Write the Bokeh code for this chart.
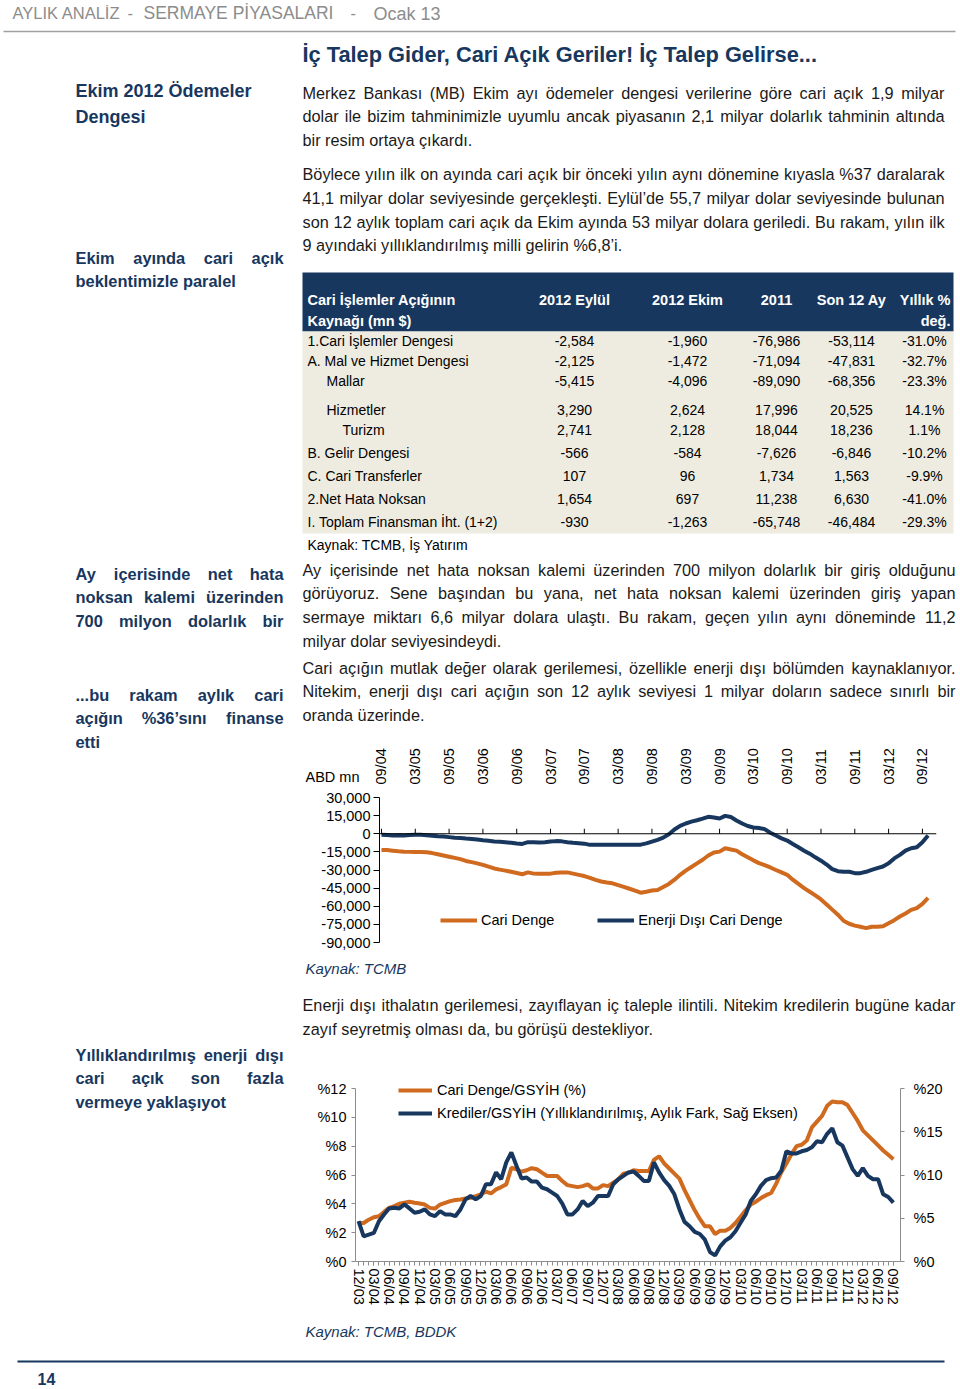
import pandas as pd
from bokeh.plotting import figure
from bokeh.models import (Range1d, LinearAxis, FixedTicker, NumeralTickFormatter, Span,
                          Legend, LegendItem, Plot)
from bokeh.layouts import column, row
from bokeh.embed import file_html
from bokeh.resources import INLINE
from bokeh.core.properties import value

# ---------------------------------------------------------------- data
# Chart 1: 12-month rolling balances, USD mn, monthly 09/2004 .. 10/2012
chart1_start = "2004-09-01"
cari_denge_12m = [
    -13400, -13500, -14000, -14500, -14800, -15000, -15100, -15200, -15300, -16000,
    -17000, -18000, -19000, -20000, -21000, -22500, -23500, -24500, -25800, -27200,
    -28700, -29700, -30500, -31500, -32500, -33500, -32000, -33000, -33200, -33000,
    -33000, -32300, -32000, -32000, -33000, -34000, -35000, -36500, -38200, -39500,
    -40300, -41000, -42500, -44000, -45500, -47000, -48800, -48000, -47000, -46500,
    -44000, -41500, -38000, -34000, -30500, -27500, -24500, -21500, -18000, -15500,
    -14800, -12000, -13000, -14000, -17000, -19500, -22000, -24300, -26000, -27900,
    -30000, -32000, -34000, -38000, -41500, -45000, -48000, -51000, -54400, -58500,
    -62800, -67000, -72000, -74500, -76000, -77000, -78100, -77000, -77000, -76500,
    -74000, -71500, -68500, -66000, -63000, -61500, -58000, -53100]
enerji_disi_12m = [
    -800, -1000, -1400, -1300, -1400, -1000, -800, -900, -1200, -1600,
    -2000, -2300, -2800, -3300, -3600, -4000, -4300, -4700, -5300, -5800,
    -6400, -6700, -7000, -7500, -8000, -8400, -7000, -7000, -7200, -7000,
    -6500, -6100, -6300, -7000, -7500, -7800, -8200, -9200, -9000, -9000,
    -9200, -9000, -9200, -9200, -9200, -9000, -9000, -8000, -6500, -5000,
    -3200, -500, 3500, 6500, 8500, 10000, 11200, 12500, 14000, 13500,
    12600, 14800, 13800, 11000, 8500, 6400, 5200, 4700, 3800, 800,
    -1500, -3800, -5600, -8500, -11200, -14000, -16500, -19500, -22300, -25500,
    -29300, -31000, -31500, -31500, -32600, -32600, -31500, -29900, -28500, -27100,
    -24500, -20400, -17500, -14000, -12000, -11200, -7000, -1400]
chart1_y_ticks = [-90000, -75000, -60000, -45000, -30000, -15000, 0, 15000, 30000]

# Chart 2: monthly 12/2003 .. 09/2012, percent
chart2_start = "2003-12-01"
cari_gsyih = [
    2.67, 2.67, 2.9, 3.07, 3.14, 3.44, 3.72, 3.84, 4.0, 4.07,
    4.14, 4.07, 4.02, 3.95, 3.72, 3.67, 3.95, 4.07, 4.19, 4.26,
    4.3, 4.37, 4.42, 4.53, 4.65, 4.85, 4.72, 5.0, 5.16, 5.35,
    6.5, 6.4, 6.23, 6.33, 6.47, 6.4, 6.16, 5.93, 5.93, 5.93,
    5.58, 5.3, 5.23, 5.16, 5.23, 5.35, 5.07, 5.07, 5.3, 5.23,
    5.47, 5.7, 6.09, 6.16, 6.33, 6.28, 6.28, 6.28, 7.05, 7.3,
    6.8, 6.45, 6.1, 5.75, 4.95, 4.25, 3.55, 2.95, 2.44, 2.44,
    1.9, 2.14, 2.14, 2.33, 2.67, 3.1, 3.55, 3.95, 4.15, 4.4,
    4.6, 4.75, 5.4, 6.2, 6.8, 7.45, 8.0, 8.1, 8.4, 9.3,
    9.7, 10.1, 10.8, 11.1, 11.05, 11.05, 10.85, 10.3, 9.75, 9.1,
    8.75, 8.4, 8.05, 7.7, 7.4, 7.09]
kredi_gsyih = [
    4.66, 2.91, 3.1, 3.3, 4.66, 5.44, 6.14, 6.21, 6.14, 6.6,
    6.14, 5.63, 5.75, 6.02, 5.44, 5.24, 5.83, 5.44, 5.44, 5.24,
    6.02, 7.18, 7.57, 7.18, 7.57, 8.93, 8.93, 10.3, 9.51, 11.46,
    12.62, 11.07, 9.59, 9.71, 9.24, 9.24, 8.54, 8.35, 7.96, 7.57,
    6.68, 5.44, 5.44, 6.02, 6.99, 6.41, 6.8, 7.57, 7.57, 7.57,
    8.93, 9.51, 9.9, 10.3, 10.4, 9.9, 9.32, 9.32, 11.46, 10.3,
    9.4, 8.74, 7.77, 6.02, 4.58, 4.08, 3.42, 3.18, 2.52, 1.09,
    0.7, 1.75, 2.41, 2.8, 3.5, 4.47, 5.44, 6.99, 7.77, 8.74,
    9.4, 9.63, 9.71, 10.49, 12.74, 12.5, 12.5, 12.74, 12.89, 13.2,
    13.9, 13.79, 14.76, 15.4, 13.79, 13.4, 12.04, 10.68, 9.9, 10.8,
    9.9, 9.51, 9.51, 7.77, 7.46, 6.8]
chart2_left_ticks = [0, 2, 4, 6, 8, 10, 12]
chart2_right_ticks = [0, 5, 10, 15, 20]

# Table
table_header = ["2012 Eylül", "2012 Ekim", "2011", "Son 12 Ay"]
table_rows = ["1.Cari İşlemler Dengesi", "A. Mal ve Hizmet Dengesi", "Mallar", "Hizmetler",
              "Turizm", "B. Gelir Dengesi", "C. Cari Transferler", "2.Net Hata Noksan",
              "I. Toplam Finansman İht. (1+2)"]
col_eylul = [-2584, -2125, -5415, 3290, 2741, -566, 107, 1654, -930]
col_ekim = [-1960, -1472, -4096, 2624, 2128, -584, 96, 697, -1263]
col_2011 = [-76986, -71094, -89090, 17996, 18044, -7626, 1734, 11238, -65748]
col_son12 = [-53114, -47831, -68356, 20525, 18236, -6846, 1563, 6630, -46484]
col_yillik = [-31.0, -32.7, -23.3, 14.1, 1.1, -10.2, -9.9, -41.0, -29.3]

# ---------------------------------------------------------------- style
FONT = "Liberation Sans"
NAVY = "#17375E"
ORANGE = "#CF6A1E"
TXT = "#1A1A1A"
GRAY = "#8C8C8C"
AXG = "#8C8C8C"
LW = 4
FA = {"frame_align": False} if "frame_align" in Plot.properties() else {}

_REG = {}
_BOLD = {}
for ch, w in zip(" !%'(),-./:+$’", [278, 278, 889, 191, 333, 333, 278, 333, 278, 278, 278, 584, 556, 222]):
    _REG[ch] = w
for ch, w in zip(" !%'(),-./:+$’", [278, 333, 889, 238, 333, 333, 278, 333, 278, 278, 333, 584, 556, 278]):
    _BOLD[ch] = w
for d in "0123456789":
    _REG[d] = 556
    _BOLD[d] = 556
_UP = "ABCDEFGHIJKLMNOPQRSTUVWXYZ"
_LO = "abcdefghijklmnopqrstuvwxyz"
_TR = "çğışöüİÇŞÖÜĞ"
_REG.update(zip(_UP, [667, 667, 722, 722, 667, 611, 778, 722, 278, 500, 667, 556, 833, 722, 778, 667, 778, 722, 667, 611, 722, 667, 944, 667, 667, 611]))
_REG.update(zip(_LO, [556, 556, 500, 556, 556, 278, 556, 556, 222, 222, 500, 222, 833, 556, 556, 556, 556, 333, 500, 278, 556, 500, 722, 500, 500, 500]))
_REG.update(zip(_TR, [500, 556, 278, 500, 556, 556, 278, 722, 667, 778, 722, 778]))
_BOLD.update(zip(_UP, [722, 722, 722, 722, 667, 611, 778, 722, 278, 556, 722, 611, 833, 722, 778, 667, 778, 722, 667, 611, 722, 667, 944, 667, 667, 611]))
_BOLD.update(zip(_LO, [556, 611, 556, 611, 556, 333, 611, 611, 278, 278, 556, 278, 889, 611, 611, 611, 611, 389, 556, 333, 611, 556, 778, 556, 556, 500]))
_BOLD.update(zip(_TR, [556, 611, 278, 556, 611, 611, 278, 722, 667, 778, 722, 778]))


def tw(s, size, bold=False):
    t = _BOLD if bold else _REG
    return sum(t.get(c, 556) for c in s) * size / 1000.0


def put(p, xs, ys, texts, size, color, bold=False, italic=False, align="left"):
    style = "bold" if bold else ("italic" if italic else "normal")
    p.text(x=xs, y=ys, text=texts, text_font=value(FONT), text_font_size=value(f"{size}px"),
           text_color=color, text_align=align, text_baseline="middle", text_font_style=style)


def justify(p, line, xl, xr, y, size, color, bold=False):
    words = line.split()
    widths = [tw(w, size, bold) for w in words]
    gap = (xr - xl - sum(widths)) / (len(words) - 1)
    xs, x = [], xl
    for w in widths:
        xs.append(x)
        x += w + gap
    put(p, xs[:-1], [y] * (len(words) - 1), words[:-1], size, color, bold)
    put(p, [xr], [y], [words[-1]], size, color, bold, align="right")


def page_fig(x0, x1, y0, y1):
    p = figure(width=x1 - x0, height=y1 - y0, x_range=Range1d(x0, x1), y_range=Range1d(y1, y0),
               toolbar_location=None, output_backend="svg", min_border=0, tools="",
               x_axis_location=None, y_axis_location=None, **FA)
    p.grid.visible = False
    p.outline_line_color = None
    p.background_fill_color = "white"
    p.border_fill_color = "white"
    return p


# ---------------------------------------------------------------- header
hdr = page_fig(0, 960, 0, 36)
put(hdr, [12], [12], ["AYLIK ANALİZ"], 16.5, GRAY)
put(hdr, [127], [12], ["-"], 16.5, GRAY)
put(hdr, [143], [12], ["SERMAYE PİYASALARI"], 17.5, GRAY)
put(hdr, [350], [12], ["-"], 16.5, GRAY)
put(hdr, [373], [13], ["Ocak 13"], 18, GRAY)
hdr.line(x=[3, 955], y=[31, 31], line_color="#A0A0A0", line_width=1.5)

# ---------------------------------------------------------------- left sidebar
left = page_fig(0, 300, 36, 1355)
SB = 16.4
put(left, [75, 75], [90, 116], ["Ekim 2012 Ödemeler", "Dengesi"], 18, NAVY, bold=True)
side = [
    (257, "J", "Ekim ayında cari açık"),
    (280, "L", "beklentimizle paralel"),
    (573, "J", "Ay içerisinde net hata"),
    (596, "J", "noksan kalemi üzerinden"),
    (620, "J", "700 milyon dolarlık bir"),
    (694, "J", "...bu rakam aylık cari"),
    (717, "J", "açığın %36’sını finanse"),
    (741, "L", "etti"),
    (1054, "J", "Yıllıklandırılmış enerji dışı"),
    (1077, "J", "cari açık son fazla"),
    (1101, "L", "vermeye yaklaşıyot"),
]
for y, mode, line in side:
    if mode == "J":
        justify(left, line, 75, 283, y, SB, NAVY, bold=True)
    else:
        put(left, [75], [y], [line], SB, NAVY, bold=True)

# ---------------------------------------------------------------- right top (title, text, table)
rt = page_fig(300, 960, 36, 745)
put(rt, [302], [54], ["İç Talep Gider, Cari Açık Geriler! İç Talep Gelirse..."], 21.8, NAVY, bold=True)
BS = 16.25
body_top = [
    (92, "J", "Merkez Bankası (MB) Ekim ayı ödemeler dengesi verilerine göre cari açık 1,9 milyar", 944),
    (115, "J", "dolar ile bizim tahminimizle uyumlu ancak piyasanın 2,1 milyar dolarlık tahminin altında", 944),
    (139, "L", "bir resim ortaya çıkardı.", 944),
    (173, "J", "Böylece yılın ilk on ayında cari açık bir önceki yılın aynı dönemine kıyasla %37 daralarak", 944),
    (197, "J", "41,1 milyar dolar seviyesinde gerçekleşti. Eylül’de 55,7 milyar dolar seviyesinde bulunan", 944),
    (221, "J", "son 12 aylık toplam cari açık da Ekim ayında 53 milyar dolara geriledi. Bu rakam, yılın ilk", 944),
    (244, "L", "9 ayındaki yıllıklandırılmış milli gelirin %6,8’i.", 944),
    (569, "J", "Ay içerisinde net hata noksan kalemi üzerinden 700 milyon dolarlık bir giriş olduğunu", 955),
    (592, "J", "görüyoruz. Sene başından bu yana, net hata noksan kalemi üzerinden giriş yapan", 955),
    (616, "J", "sermaye miktarı 6,6 milyar dolara ulaştı. Bu rakam, geçen yılın aynı döneminde 11,2", 955),
    (640, "L", "milyar dolar seviyesindeydi.", 955),
    (667, "J", "Cari açığın mutlak değer olarak gerilemesi, özellikle enerji dışı bölümden kaynaklanıyor.", 955),
    (690, "J", "Nitekim, enerji dışı cari açığın son 12 aylık seviyesi 1 milyar doların sadece sınırlı bir", 955),
    (714, "L", "oranda üzerinde.", 955),
]
for y, mode, line, xr in body_top:
    if mode == "J":
        justify(rt, line, 302, xr, y, BS, TXT)
    else:
        put(rt, [302], [y], [line], BS, TXT)

# table
rt.quad(left=[302], right=[953], top=[272], bottom=[331], fill_color=NAVY, line_color=None)
rt.quad(left=[302], right=[953], top=[331], bottom=[533], fill_color="#EEECE1", line_color=None)
TS = 14
HS = 14.5
put(rt, [307, 307], [299, 320], ["Cari İşlemler Açığının", "Kaynağı (mn $)"], HS, "white", bold=True)
col_x = [574, 687, 776, 851]
put(rt, col_x, [299] * 4, table_header, HS, "white", bold=True, align="center")
put(rt, [950, 950], [299, 320], ["Yıllık %", "değ."], HS, "white", bold=True, align="right")
row_y = [340, 360, 380, 409, 429, 452, 475, 498, 521]
indent = {"Mallar": 326, "Hizmetler": 326, "Turizm": 342}
put(rt, [indent.get(r, 307) for r in table_rows], row_y, table_rows, TS, "#000000")
for cx, col in zip(col_x, [col_eylul, col_ekim, col_2011, col_son12]):
    put(rt, [cx] * len(col), row_y, [f"{v:,}" for v in col], TS, "#000000", align="center")
put(rt, [924] * len(col_yillik), row_y, [f"{v:.1f}%" for v in col_yillik], TS, "#000000", align="center")
put(rt, [307], [544], ["Kaynak: TCMB, İş Yatırım"], TS, "#000000")

# ---------------------------------------------------------------- chart 1
months1 = pd.date_range(chart1_start, periods=len(cari_denge_12m), freq="MS")
idx1 = list(range(len(months1)))
ticks1 = idx1[::6]
c1 = figure(width=660, height=215, x_range=Range1d(-0.35, 98.5), y_range=Range1d(-90000, 30000),
            toolbar_location=None, output_backend="svg", tools="", x_axis_location="above",
            min_border_left=79, min_border_right=24, min_border_top=52, min_border_bottom=18, **FA)
c1.grid.visible = False
c1.outline_line_color = None
c1.background_fill_color = "white"
c1.border_fill_color = "white"
xa = c1.xaxis[0]
xa.ticker = FixedTicker(ticks=ticks1)
xa.major_label_overrides = {i: months1[i].strftime("%m/%y") for i in ticks1}
xa.major_label_orientation = "vertical"
xa.axis_line_color = None
xa.major_tick_line_color = None
xa.minor_tick_line_color = None
xa.major_label_standoff = 7
xa.major_label_text_font = FONT
xa.major_label_text_font_size = "14.5px"
xa.major_label_text_color = "#000000"
ya = c1.yaxis[0]
ya.ticker = FixedTicker(ticks=chart1_y_ticks)
ya.formatter = NumeralTickFormatter(format="0,0")
ya.axis_line_color = "#000000"
ya.major_tick_line_color = "#000000"
ya.major_tick_out = 6
ya.major_tick_in = 0
ya.minor_tick_line_color = None
ya.major_label_standoff = 3
ya.major_label_text_font = FONT
ya.major_label_text_font_size = "14.5px"
ya.major_label_text_color = "#000000"
c1.add_layout(Span(location=0, dimension="width", line_color="#000000", line_width=1))
tick_len1 = 5 * (30000 - (-90000)) / 145.0
c1.segment(x0=ticks1, y0=[0] * len(ticks1), x1=ticks1, y1=[tick_len1] * len(ticks1),
           line_color="#000000", line_width=1)
r1a = c1.line(idx1, cari_denge_12m, line_color=ORANGE, line_width=LW)
r1b = c1.line(idx1, enerji_disi_12m, line_color=NAVY, line_width=LW)
leg1 = Legend(items=[LegendItem(label="Cari Denge", renderers=[r1a]),
                     LegendItem(label="Enerji Dışı Cari Denge", renderers=[r1b])],
              orientation="horizontal", location=(61, 12), glyph_width=37, label_standoff=4,
              spacing=43, padding=0, margin=0, border_line_color=None,
              background_fill_alpha=0, label_text_font=FONT, label_text_font_size="14.5px",
              label_text_color="#000000")
c1.add_layout(leg1)
c1.text(x=[-0.35], y=[30000], text=["ABD mn"], x_offset=-74, y_offset=-21,
        text_font=value(FONT), text_font_size=value("14.5px"), text_color="#000000",
        text_baseline="middle", level="overlay")

# ---------------------------------------------------------------- right middle text
rm = page_fig(300, 960, 960, 1075)
put(rm, [305], [968], ["Kaynak: TCMB"], 15, NAVY, italic=True)
justify(rm, "Enerji dışı ithalatın gerilemesi, zayıflayan iç taleple ilintili. Nitekim kredilerin bugüne kadar",
        302, 955, 1004, BS, TXT)
put(rm, [302], [1028], ["zayıf seyretmiş olması da, bu görüşü destekliyor."], BS, TXT)

# ---------------------------------------------------------------- chart 2
months2 = pd.date_range(chart2_start, periods=len(cari_gsyih), freq="MS")
idx2 = list(range(len(months2)))
ticks2 = idx2[::3]
frame_h2 = 173.0          # pixel height between %0 and top tick
head_room = 13.0          # pixels above top tick (legend lives there)
left_top = 12 + head_room * 12 / frame_h2
right_top = 20 + head_room * 20 / frame_h2
c2 = figure(width=660, height=243, x_range=Range1d(-0.6, 106.4), y_range=Range1d(0, left_top),
            toolbar_location=None, output_backend="svg", tools="",
            min_border_left=55, min_border_right=60, min_border_top=0, min_border_bottom=57, **FA)
c2.grid.visible = False
c2.outline_line_color = None
c2.background_fill_color = "white"
c2.border_fill_color = "white"
c2.extra_y_ranges = {"r": Range1d(0, right_top)}
bx = c2.xaxis[0]
bx.ticker = FixedTicker(ticks=ticks2, minor_ticks=idx2)
bx.major_label_overrides = {i: months2[i].strftime("%m/%y") for i in ticks2}
bx.major_label_orientation = "vertical"
bx.axis_line_color = AXG
bx.major_tick_line_color = AXG
bx.minor_tick_line_color = AXG
bx.major_tick_out = 4
bx.major_tick_in = 0
bx.minor_tick_out = 4
bx.minor_tick_in = 0
bx.major_label_standoff = 3
ly = c2.yaxis[0]
ly.ticker = FixedTicker(ticks=chart2_left_ticks)
ly.major_label_overrides = {t: f"%{t}" for t in chart2_left_ticks}
ly.major_label_standoff = 5
ly.bounds = (0, 12)
ry = LinearAxis(y_range_name="r", ticker=FixedTicker(ticks=chart2_right_ticks),
                major_label_overrides={t: f"%{t}" for t in chart2_right_ticks})
ry.major_label_standoff = 9
ry.bounds = (0, 20)
c2.add_layout(ry, "right")
for ax in (ly, ry):
    ax.axis_line_color = AXG
    ax.major_tick_line_color = AXG
    ax.major_tick_out = 4
    ax.major_tick_in = 0
    ax.minor_tick_line_color = None
for ax in (bx, ly, ry):
    ax.major_label_text_font = FONT
    ax.major_label_text_font_size = "14.5px"
    ax.major_label_text_color = "#000000"
r2a = c2.line(idx2, cari_gsyih, line_color=ORANGE, line_width=LW)
r2b = c2.line(idx2, kredi_gsyih, line_color=NAVY, line_width=LW, y_range_name="r")
leg2 = Legend(items=[LegendItem(label="Cari Denge/GSYİH (%)", renderers=[r2a]),
                     LegendItem(label="Krediler/GSYİH (Yıllıklandırılmış, Aylık Fark, Sağ Eksen)",
                                renderers=[r2b])],
              orientation="vertical", location=(43, 138), glyph_width=34, label_standoff=5,
              spacing=3, padding=0, margin=0, border_line_color=None,
              background_fill_alpha=0, label_text_font=FONT, label_text_font_size="14.5px",
              label_text_color="#000000")
c2.add_layout(leg2)

# ---------------------------------------------------------------- right bottom
rb = page_fig(300, 960, 1318, 1355)
put(rb, [305], [1331], ["Kaynak: TCMB, BDDK"], 15, NAVY, italic=True)

# ---------------------------------------------------------------- footer
ft = page_fig(0, 960, 1355, 1387)
ft.line(x=[17, 944], y=[1361, 1361], line_color=NAVY, line_width=2)
put(ft, [37], [1378], ["14"], 16, NAVY, bold=True)

right_col = column(rt, c1, rm, c2, rb)
page = column(hdr, row(left, right_col), ft)

open("out.html", "w").write(file_html(page, INLINE))
